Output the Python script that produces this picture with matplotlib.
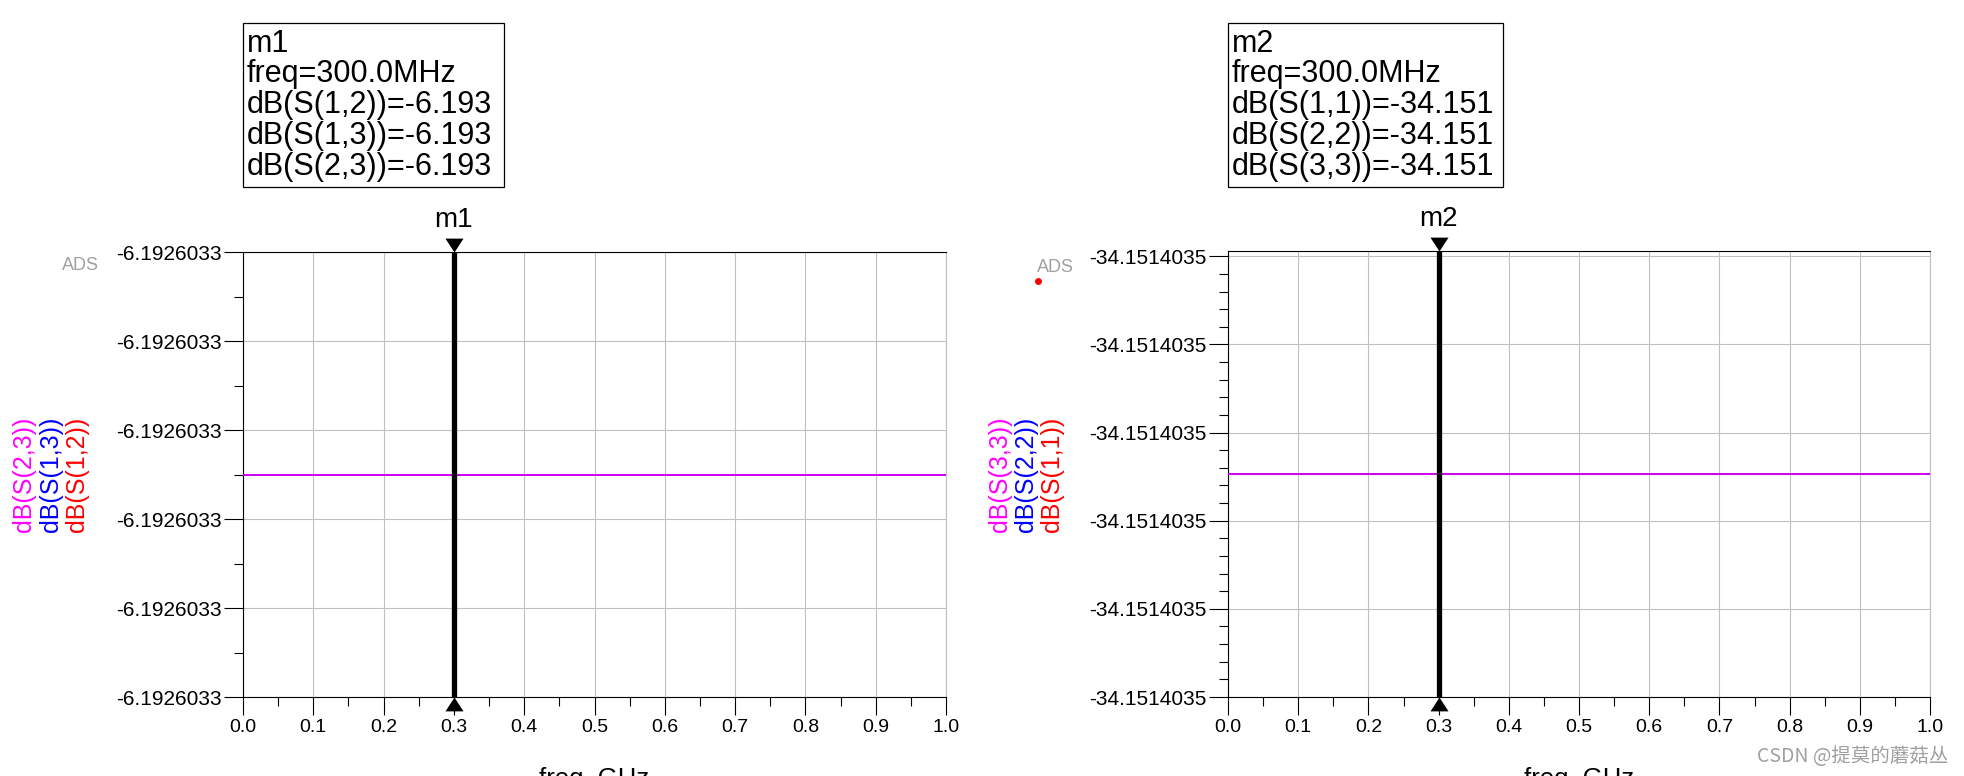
import matplotlib
matplotlib.use('Agg')
import matplotlib.pyplot as plt
from matplotlib.ticker import FixedLocator, FormatStrFormatter, MultipleLocator, AutoMinorLocator
from matplotlib.patches import Rectangle
from matplotlib.lines import Line2D
from matplotlib.path import Path
import matplotlib.transforms as mtransforms

# ---------------- data ----------------
freq_ghz = [0.0, 0.1, 0.2, 0.3, 0.4, 0.5, 0.6, 0.7, 0.8, 0.9, 1.0]

s12_db = [-6.1926033, -6.1926033, -6.1926033, -6.1926033, -6.1926033, -6.1926033,
          -6.1926033, -6.1926033, -6.1926033, -6.1926033, -6.1926033]
s13_db = [-6.1926033, -6.1926033, -6.1926033, -6.1926033, -6.1926033, -6.1926033,
          -6.1926033, -6.1926033, -6.1926033, -6.1926033, -6.1926033]
s23_db = [-6.1926033, -6.1926033, -6.1926033, -6.1926033, -6.1926033, -6.1926033,
          -6.1926033, -6.1926033, -6.1926033, -6.1926033, -6.1926033]

s11_db = [-34.1514035, -34.1514035, -34.1514035, -34.1514035, -34.1514035, -34.1514035,
          -34.1514035, -34.1514035, -34.1514035, -34.1514035, -34.1514035]
s22_db = [-34.1514035, -34.1514035, -34.1514035, -34.1514035, -34.1514035, -34.1514035,
          -34.1514035, -34.1514035, -34.1514035, -34.1514035, -34.1514035]
s33_db = [-34.1514035, -34.1514035, -34.1514035, -34.1514035, -34.1514035, -34.1514035,
          -34.1514035, -34.1514035, -34.1514035, -34.1514035, -34.1514035]

x_ticks = [0.0, 0.1, 0.2, 0.3, 0.4, 0.5, 0.6, 0.7, 0.8, 0.9, 1.0]
x_tick_labels = ['0.0', '0.1', '0.2', '0.3', '0.4', '0.5', '0.6', '0.7', '0.8', '0.9', '1.0']

marker_freq = 0.3
m1_name = 'm1'
m1_labels = ['dB(S(1,2))', 'dB(S(1,3))', 'dB(S(2,3))']
m1_values = [-6.193, -6.193, -6.193]
m2_name = 'm2'
m2_labels = ['dB(S(1,1))', 'dB(S(2,2))', 'dB(S(3,3))']
m2_values = [-34.151, -34.151, -34.151]
marker_freq_label = 'freq=300.0MHz'

left_center = -6.1926033
right_center = -34.1514035

# ---------------- figure ----------------
W, H = 1964, 776
plt.rcParams['font.family'] = ['Liberation Sans', 'DejaVu Sans']

fig = plt.figure(figsize=(W / 100, H / 100), dpi=100)


def fx(px):
    return px / W


def fy(py):
    return 1 - py / H


GRID = '#c0c0c0'

down_tri = Path([(-0.65, 1.0), (0.65, 1.0), (0.0, 0.0), (-0.65, 1.0)],
                [Path.MOVETO, Path.LINETO, Path.LINETO, Path.CLOSEPOLY])
up_tri = Path([(-0.65, -1.0), (0.65, -1.0), (0.0, 0.0), (-0.65, -1.0)],
              [Path.MOVETO, Path.LINETO, Path.LINETO, Path.CLOSEPOLY])

panels = [
    dict(box=(243, 252, 946, 697), center=left_center, lo=2.5, hi=2.5, nminor=2,
         traces=[(s12_db, 'red'), (s13_db, 'blue'), (s23_db, 'magenta')],
         name=m1_name, labels=m1_labels, values=m1_values,
         mbox=(243, 22.5, 503.5, 186.6),
         ylab=[(24, m1_labels[2], 'magenta'), (50.5, m1_labels[1], 'blue'), (77.5, m1_labels[0], 'red')],
         ads=(80, 266), dot=None),
    dict(box=(1228, 251, 1930, 697), center=right_center, lo=2.53, hi=2.53, nminor=5,
         traces=[(s11_db, 'red'), (s22_db, 'blue'), (s33_db, 'magenta')],
         name=m2_name, labels=m2_labels, values=m2_values,
         mbox=(1227.5, 22.5, 1503, 186.6),
         ylab=[(1000, m2_labels[2], 'magenta'), (1026, m2_labels[1], 'blue'), (1052, m2_labels[0], 'red')],
         ads=(1055, 267), dot=(1038, 281)),
]

step = 1e-9

for p in panels:
    x0, y0, x1, y1 = p['box']
    ax = fig.add_axes([fx(x0), fy(y1), (x1 - x0) / W, (y1 - y0) / H])
    c = p['center']
    for vals, col in p['traces']:
        ax.plot(freq_ghz, vals, color=col, lw=1.1, zorder=3)

    yticks = [c - p['lo'] * step + k * step for k in range(6)]
    ax.yaxis.set_major_locator(FixedLocator(yticks))
    ax.yaxis.set_major_formatter(FormatStrFormatter('%.7f'))
    ax.yaxis.set_minor_locator(AutoMinorLocator(p['nminor']))
    ax.set_ylim(c - p['lo'] * step, c + p['hi'] * step)

    ax.set_xlim(0.0, 1.0)
    ax.set_xticks(x_ticks)
    ax.set_xticklabels(x_tick_labels)
    ax.xaxis.set_minor_locator(MultipleLocator(0.05))

    ax.tick_params(axis='y', which='major', direction='out', length=13.7, width=0.8,
                   pad=1.8, labelsize=15)
    ax.tick_params(axis='y', which='minor', direction='out', length=6.5, width=0.8)
    ax.tick_params(axis='x', which='major', direction='out', length=13, width=0.8,
                   pad=3, labelsize=14)
    ax.tick_params(axis='x', which='minor', direction='out', length=6.5, width=0.8)

    ax.grid(True, which='major', color=GRID, lw=0.8)
    ax.set_axisbelow(True)
    for s in ['top', 'left', 'bottom']:
        ax.spines[s].set_color('black')
        ax.spines[s].set_linewidth(0.8)
    ax.spines['right'].set_color(GRID)
    ax.spines['right'].set_linewidth(0.8)

    # marker line and triangles
    ax.axvline(marker_freq, color='black', lw=3.8, zorder=5)
    xt = ax.get_xaxis_transform()
    ax.plot([marker_freq], [1.0], marker=down_tri, ms=20, color='black', mew=0,
            transform=xt, clip_on=False, zorder=6)
    ax.plot([marker_freq], [0.0], marker=up_tri, ms=20, color='black', mew=0,
            transform=xt, clip_on=False, zorder=6)
    ax.text(marker_freq, 1.0, p['name'],
            transform=mtransforms.offset_copy(xt, fig=fig, y=25.3, units='dots'),
            ha='center', va='baseline', fontsize=20)

    # marker readout box
    bx0, by0, bx1, by1 = p['mbox']
    fig.add_artist(Rectangle((fx(bx0), fy(by1)), (bx1 - bx0) / W, (by1 - by0) / H,
                             transform=fig.transFigure, fill=False, lw=0.9,
                             edgecolor='black'))
    lines = [p['name'], marker_freq_label] + [f'{l}={v:.3f}' for l, v in zip(p['labels'], p['values'])]
    for k, t in enumerate(lines):
        fig.text(fx(bx0 + 4), fy(51.5 + 30.9 * k), t, ha='left', va='baseline', fontsize=22)

    # colored y labels
    for xp, t, col in p['ylab']:
        fig.text(fx(xp), fy(474), t, rotation=90, ha='center', va='center',
                 fontsize=18, color=col)

    # x label (cut off at bottom, as in the reference)
    fig.text(fx((x0 + x1) / 2), fy(786), 'freq, GHz', ha='center', va='baseline',
             fontsize=18.5)

    # ADS logo text
    fig.text(fx(p['ads'][0]), fy(p['ads'][1]), 'ADS', ha='center', va='center',
             fontsize=13, color='#a0a0a0')
    if p['dot'] is not None:
        fig.add_artist(Line2D([fx(p['dot'][0])], [fy(p['dot'][1])], marker='o',
                              ms=5, color='red', mew=0, transform=fig.transFigure))

fig.text(fx(1948), fy(756), 'CSDN @提莫的蘑菇丛', ha='right', va='center', fontsize=14,
         color='#a0a0a0', family=['Noto Sans CJK SC', 'DejaVu Sans'])

fig.savefig('out.png', dpi=100)
